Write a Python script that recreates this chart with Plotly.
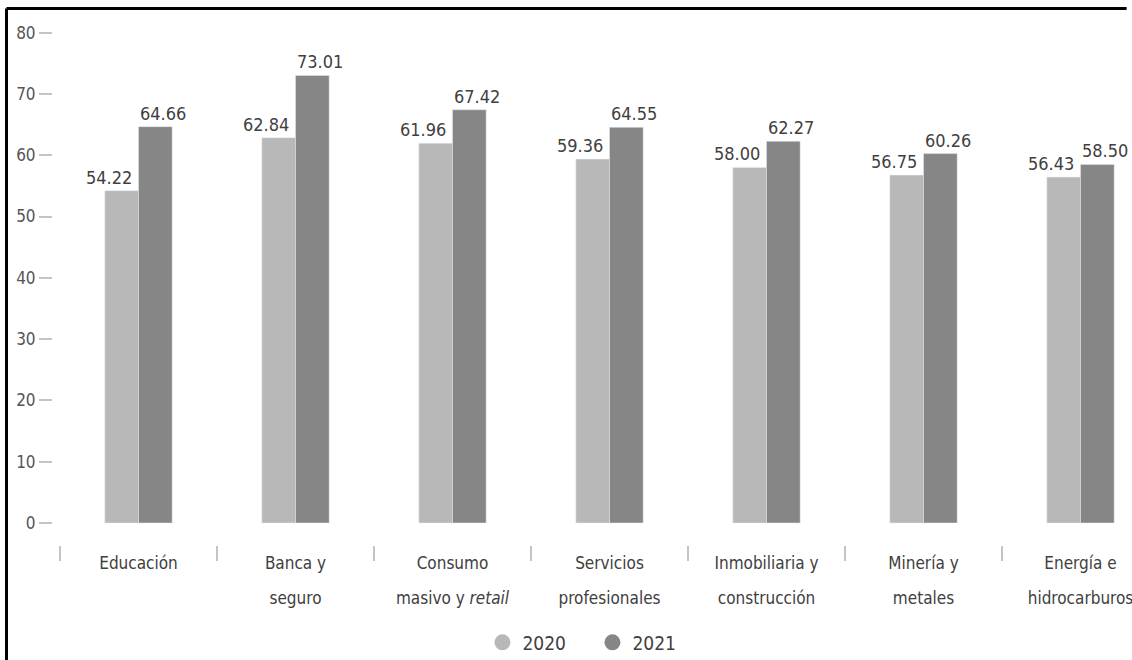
import plotly.graph_objects as go

categories = ["Educación", "Banca y seguro", "Consumo masivo y retail",
              "Servicios profesionales", "Inmobiliaria y construcción",
              "Minería y metales", "Energía e hidrocarburos"]
label_line1 = ["Educación", "Banca y", "Consumo", "Servicios",
               "Inmobiliaria y", "Minería y", "Energía e"]
label_line2 = ["", "seguro", "masivo y <i>retail</i>", "profesionales",
               "construcción", "metales", "hidrocarburos"]
values_2020 = [54.22, 62.84, 61.96, 59.36, 58.00, 56.75, 56.43]
values_2021 = [64.66, 73.01, 67.42, 64.55, 62.27, 60.26, 58.50]
series_names = ["2020", "2021"]
y_ticks = [0, 10, 20, 30, 40, 50, 60, 70, 80]

FONT = "DejaVu Sans Condensed, DejaVu Sans, sans-serif"
C2020 = "#b8b8b8"
C2021 = "#868686"
TXT = "#404040"

fig = go.Figure()
fig.add_trace(go.Bar(x=categories, y=values_2020, name=series_names[0],
                     marker_color=C2020, showlegend=False))
fig.add_trace(go.Bar(x=categories, y=values_2021, name=series_names[1],
                     marker_color=C2021, showlegend=False))
# legend entries with round symbols
for nm, col in zip(series_names, [C2020, C2021]):
    fig.add_trace(go.Scatter(x=[None], y=[None], mode="markers", name=nm,
                             marker=dict(symbol="circle", size=16, color=col)))
# carrier for second line of category labels
fig.add_trace(go.Scatter(x=categories, y=[None] * len(categories), xaxis="x2",
                         mode="markers", showlegend=False, hoverinfo="skip"))

# value labels: 2020 to the left of the pair centre, 2021 to the right
annotations = []
for cat, v in zip(categories, values_2020):
    annotations.append(dict(x=cat, y=v, xref="x", yref="y", text=f"{v:.2f}",
                            showarrow=False, xanchor="right", yanchor="bottom",
                            xshift=-5, yshift=1,
                            font=dict(size=18, color=TXT, family=FONT)))
for cat, v in zip(categories, values_2021):
    annotations.append(dict(x=cat, y=v, xref="x", yref="y", text=f"{v:.2f}",
                            showarrow=False, xanchor="left", yanchor="bottom",
                            xshift=-1, yshift=1,
                            font=dict(size=18, color=TXT, family=FONT)))

W, H = 1132, 660
ml, mr, mt, mb = 53, 0, 20, 115
plot_h = H - mt - mb
plot_w = W - ml - mr
px_per_unit = 6.13
y_zero_px = 523
y_min = -((H - mb) - y_zero_px) / px_per_unit
y_max = (y_zero_px - mt) / px_per_unit
cat_px = 157.0
first_boundary_px = 60
x_min = -0.5 - (first_boundary_px - ml) / cat_px
x_max = -0.5 + (W - first_boundary_px) / cat_px

bx = (6.5 - ml) / plot_w
by = ((H - mb) - 8.5) / plot_h
b_bottom = -mb / plot_h

fig.update_layout(
    width=W, height=H,
    margin=dict(l=ml, r=mr, t=mt, b=mb, autoexpand=False),
    paper_bgcolor="white", plot_bgcolor="white",
    barmode="group", bargap=0.571, bargroupgap=0,
    font=dict(family=FONT, size=17, color=TXT),
    annotations=annotations,
    xaxis=dict(type="category", categoryarray=categories, range=[x_min, x_max],
               tickmode="array", tickvals=categories, ticktext=label_line1,
               tickson="boundaries", ticks="outside", ticklen=15,
               tickcolor="#c4c4c4", tickwidth=1.5, showgrid=False,
               showline=False, zeroline=False, ticklabelstandoff=6,
               automargin=False, tickfont=dict(size=17, color=TXT)),
    xaxis2=dict(type="category", categoryarray=categories, range=[x_min, x_max],
                overlaying="x", anchor="y", side="bottom",
                tickmode="array", tickvals=categories, ticktext=label_line2,
                ticks="", showgrid=False, showline=False, zeroline=False,
                ticklabelstandoff=41, automargin=False,
                tickfont=dict(size=17, color=TXT)),
    yaxis=dict(range=[y_min, y_max], tickvals=y_ticks, ticks="outside",
               ticklen=13, tickcolor="#c4c4c4", tickwidth=1.5,
               showgrid=False, showline=False, zeroline=False,
               automargin=False, tickfont=dict(size=17, color="#555555")),
    legend=dict(orientation="h", x=0.398, xanchor="left", y=-0.1495,
                yanchor="top", entrywidth=65, entrywidthmode="pixels",
                font=dict(size=19, color=TXT)),
    shapes=[
        dict(type="line", xref="paper", yref="paper",
             x0=bx, x1=bx, y0=b_bottom, y1=by,
             line=dict(color="black", width=3), layer="above"),
        dict(type="line", xref="paper", yref="paper",
             x0=bx, x1=0.995, y0=by, y1=by,
             line=dict(color="black", width=3), layer="above"),
    ],
)

fig.write_html("out.html")
